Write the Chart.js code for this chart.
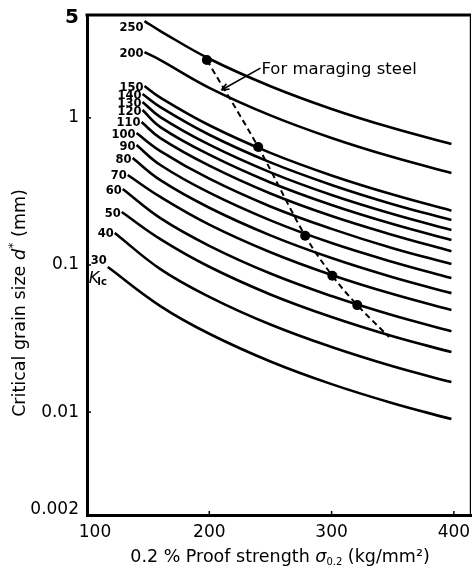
<!DOCTYPE html>
<html><head><meta charset="utf-8">
<script src="https://cdn.jsdelivr.net/npm/chart.js@4.4.0/dist/chart.umd.min.js"></script>
<style>html,body{margin:0;padding:0;background:#fff;}</style>
</head><body>
<canvas id="c" width="476" height="571"></canvas>
<script>
// ---- data ----
const kLabels = ['250','200','150','140','130','120','110','100','90','80','70','60','50','40','30'];
const startSigma = [147,147,147,145.4,145.4,145.4,144.6,140.5,140.5,137.3,133.3,129.2,128.4,122.7,117];
const gridSigma = [160,200,250,300,350,398];
const d250 = [4.55, 3.89, 2.52, 1.64, 1.15, 0.852, 0.664];
const d200 = [2.80, 2.47, 1.60, 1.04, 0.730, 0.541, 0.422];
const d150 = [1.645, 1.374, 0.891, 0.578, 0.406, 0.301, 0.234];
const d140 = [1.452, 1.184, 0.768, 0.498, 0.350, 0.259, 0.202];
const d130 = [1.281, 1.012, 0.657, 0.426, 0.299, 0.222, 0.173];
const d120 = [1.130, 0.866, 0.562, 0.364, 0.256, 0.190, 0.148];
const d110 = [0.937, 0.728, 0.473, 0.306, 0.215, 0.160, 0.124];
const d100 = [0.788, 0.595, 0.386, 0.250, 0.176, 0.130, 0.1015];
const d90  = [0.653, 0.478, 0.310, 0.201, 0.141, 0.105, 0.0815];
const d80  = [0.533, 0.377, 0.245, 0.159, 0.1115, 0.0826, 0.0644];
const d70  = [0.409, 0.290, 0.188, 0.122, 0.0855, 0.0634, 0.0494];
const d60  = [0.328, 0.208, 0.135, 0.0875, 0.0615, 0.0455, 0.0355];
const d50  = [0.229, 0.150, 0.0973, 0.0631, 0.0443, 0.0328, 0.0256];
const d40  = [0.165, 0.0938, 0.0608, 0.0394, 0.0277, 0.0205, 0.0160];
const d30  = [0.0968, 0.0526, 0.0341, 0.0221, 0.0155, 0.0115, 0.00897];
const curveValues = [d250,d200,d150,d140,d130,d120,d110,d100,d90,d80,d70,d60,d50,d40,d30];

const marSigma = [198, 240, 278.4, 300.6, 321, 347];
const marD     = [2.47, 0.633, 0.158, 0.0845, 0.0534, 0.0324];
const marDotCount = 5;

const xTickVals = [100, 200, 300, 400];
const xTickText = ['100', '200', '300', '400'];
const yTickVals = [5, 1, 0.1, 0.01, 0.002];
const yTickText = ['5', '1', '0.1', '0.01', '0.002'];

const annoText = 'For maraging steel';
const annoTextPos = {x: 241, y: 2.11};
const annoTip = {x: 210, y: 1.545};

// ---- build datasets ----
const datasets = [];
curveValues.forEach((vals, i) => {
  const xs = [startSigma[i]].concat(gridSigma);
  datasets.push({
    data: vals.map((v, j) => ({x: xs[j], y: v})),
    borderColor: '#000', borderWidth: 2.6, pointRadius: 0,
    tension: 0.4, fill: false
  });
});
datasets.push({
  data: marSigma.map((s, j) => ({x: s, y: marD[j]})),
  borderColor: '#000', borderWidth: 2, borderDash: [6, 4], pointRadius: 0,
  tension: 0.35, fill: false
});
datasets.push({
  data: marSigma.slice(0, marDotCount).map((s, j) => ({x: s, y: marD[j]})),
  showLine: false, pointRadius: 5, pointBackgroundColor: '#000', pointBorderColor: '#000', pointBorderWidth: 0
});

function drawRich(ctx, parts, cx, cy, rot) {
  let w = 0;
  parts.forEach(p => { ctx.font = p.font; p.w = ctx.measureText(p.t).width; w += p.w; });
  ctx.save();
  ctx.translate(cx, cy);
  if (rot) ctx.rotate(rot);
  let x = -w / 2;
  ctx.textBaseline = 'middle';
  ctx.textAlign = 'left';
  parts.forEach(p => { ctx.font = p.font; ctx.fillText(p.t, x, p.dy || 0); x += p.w; });
  ctx.restore();
}

const FONT = '"DejaVu Sans", sans-serif';
const deco = {
  id: 'deco',
  afterDraw(chart) {
    const ctx = chart.ctx, a = chart.chartArea;
    const xs = chart.scales.x, ys = chart.scales.y;
    ctx.save();
    ctx.strokeStyle = '#000'; ctx.fillStyle = '#000';
    // frame top & right
    ctx.lineWidth = 3;
    ctx.beginPath(); ctx.moveTo(a.left - 1.5, a.top); ctx.lineTo(a.right, a.top); ctx.stroke();
    ctx.lineWidth = 1.2;
    ctx.beginPath(); ctx.moveTo(a.right - 0.6, a.top); ctx.lineTo(a.right - 0.6, a.bottom); ctx.stroke();
    // inward ticks
    ctx.lineWidth = 1.5;
    [1, 0.1, 0.01].forEach(v => { const y = ys.getPixelForValue(v); ctx.beginPath(); ctx.moveTo(a.left, y); ctx.lineTo(a.left + 4, y); ctx.stroke(); });
    [200, 300, 400].forEach(v => { const x = xs.getPixelForValue(v); ctx.beginPath(); ctx.moveTo(x, a.bottom); ctx.lineTo(x, a.bottom - 4); ctx.stroke(); });
    // y tick labels
    ctx.textAlign = 'right'; ctx.textBaseline = 'middle';
    yTickVals.forEach((v, i) => {
      let y = ys.getPixelForValue(v);
      if (i === 0) { y += 3; ctx.font = 'bold 20px ' + FONT; } else ctx.font = '17px ' + FONT;
      if (i === yTickVals.length - 1) y -= 5;
      ctx.fillText(yTickText[i], a.left - 8, y);
    });
    // x tick labels
    ctx.font = '17px ' + FONT; ctx.textAlign = 'center';
    xTickVals.forEach((v, i) => {
      let x = xs.getPixelForValue(v);
      if (i === 0) x += 8;
      ctx.fillText(xTickText[i], x, a.bottom + 18);
    });
    // curve labels
    ctx.font = 'bold 11.5px ' + FONT; ctx.textAlign = 'right'; ctx.textBaseline = 'middle';
    const last = curveValues.length - 1;
    curveValues.forEach((vals, i) => {
      const x = xs.getPixelForValue(startSigma[i]) - 1;
      const dy = i === 0 ? 7 : (i === last ? -6 : 1.5);
      const y = ys.getPixelForValue(vals[0]) + dy;
      ctx.fillText(kLabels[i], x, y);
    });
    // K_Ic
    {
      const x = xs.getPixelForValue(startSigma[14]) - 19;
      const y = ys.getPixelForValue(d30[0]) + 12;
      ctx.textAlign = 'left';
      ctx.font = 'italic 16px ' + FONT; ctx.fillText('K', x, y);
      const w = ctx.measureText('K').width;
      ctx.font = 'bold 10px ' + FONT; ctx.fillText('Ic', x + w - 2, y + 3);
    }
    // annotation
    {
      const tx = xs.getPixelForValue(annoTextPos.x), ty = ys.getPixelForValue(annoTextPos.y);
      const px = xs.getPixelForValue(annoTip.x), py = ys.getPixelForValue(annoTip.y);
      ctx.font = '16.5px ' + FONT; ctx.textAlign = 'left'; ctx.textBaseline = 'middle';
      ctx.fillText(annoText, tx + 2, ty);
      ctx.lineWidth = 1.6;
      ctx.beginPath(); ctx.moveTo(tx + 1, ty - 2); ctx.lineTo(px, py); ctx.stroke();
      const ang = Math.atan2(py - (ty - 2), px - (tx + 1));
      ctx.beginPath();
      ctx.moveTo(px, py);
      ctx.lineTo(px - 8 * Math.cos(ang - 0.4), py - 8 * Math.sin(ang - 0.4));
      ctx.moveTo(px, py);
      ctx.lineTo(px - 8 * Math.cos(ang + 0.4), py - 8 * Math.sin(ang + 0.4));
      ctx.stroke();
    }
    // axis titles
    const f = '17.5px ' + FONT;
    drawRich(ctx, [
      {t: 'Critical grain size ', font: f},
      {t: 'd', font: 'italic 17.5px ' + FONT},
      {t: '*', font: '13px ' + FONT, dy: -6},
      {t: ' (mm)', font: f}
    ], 20, 303, -Math.PI / 2);
    drawRich(ctx, [
      {t: '0.2 % Proof strength ', font: f},
      {t: 'σ', font: 'italic 17.5px ' + FONT},
      {t: '0.2', font: '10px ' + FONT, dy: 5},
      {t: ' (kg/mm²)', font: f}
    ], 280, 557, 0);
    ctx.restore();
  }
};

new Chart(document.getElementById('c').getContext('2d'), {
  type: 'line',
  data: {datasets},
  options: {
    responsive: false, animation: false, devicePixelRatio: 1,
    layout: {padding: {left: 0, right: 2, top: 15, bottom: 0}},
    plugins: {legend: {display: false}, tooltip: {enabled: false}},
    scales: {
      x: {type: 'linear', min: 100, max: 414, ticks: {display: false}, grid: {display: false},
          border: {display: true, width: 3, color: '#000'}, afterFit(s) { s.height = 56; }},
      y: {type: 'logarithmic', min: 0.002, max: 5, ticks: {display: false}, grid: {display: false},
          border: {display: true, width: 3, color: '#000'}, afterFit(s) { s.width = 87; }}
    }
  },
  plugins: [deco]
});
</script>
</body></html>
